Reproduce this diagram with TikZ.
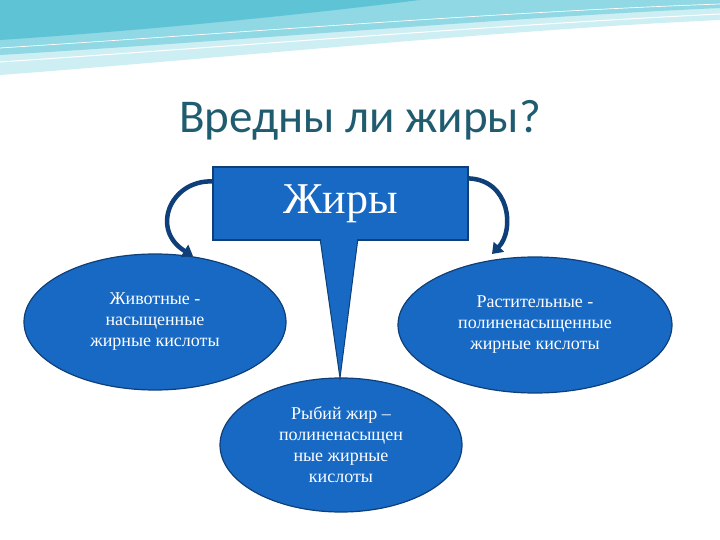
\documentclass[tikz,border=0pt]{standalone}
\usepackage{fontspec}
\setmainfont{Liberation Serif}
\newfontfamily\titlefont{Carlito}
\usetikzlibrary{arrows.meta,shapes.geometric}
\definecolor{blu}{HTML}{1769C4}
\definecolor{edge}{HTML}{0F3F78}
\definecolor{teal1}{HTML}{8FD8E4}
\definecolor{teal2}{HTML}{CDEEF3}
\definecolor{teal3}{HTML}{5FC3D6}
\definecolor{ttl}{HTML}{1F5C70}
\tikzset{
 oval/.style={ellipse,fill=blu,draw=edge,line width=1.2pt,text=white,align=center,inner sep=0pt,font=\fontsize{18}{21}\selectfont},
 curv/.style={draw=edge,line width=4.5pt,-{Triangle[length=10pt,width=14pt]}},
}
\begin{document}
\begin{tikzpicture}[x=1pt,y=-1pt]
\useasboundingbox (0,0) rectangle (720,540);
\fill[white] (0,0) rectangle (720,540);
% top waves
\fill[teal2] (0,0) -- (720,0) -- (720,20) .. controls (500,30) and (200,60) .. (0,75) -- cycle;
\fill[teal1] (0,0) -- (720,0) -- (720,8) .. controls (500,18) and (250,40) .. (0,55) -- cycle;
\fill[teal3] (0,0) -- (420,0) .. controls (300,15) and (150,30) .. (0,40) -- cycle;
\draw[white,line width=1pt] (0,62) .. controls (250,45) and (500,25) .. (720,14);
\draw[white,line width=0.7pt] (0,48) .. controls (250,32) and (500,12) .. (720,4);
\node[font=\titlefont\fontsize{47}{52}\selectfont,text=ttl] (title) at (360,120) {Вредны ли жиры?};
\node[oval,minimum width=262pt,minimum height=136pt] (animal) at (155,322) {Животные -\\насыщенные\\жирные кислоты};
\node[oval,minimum width=274pt,minimum height=136pt] (plant) at (535,325) {Растительные -\\полиненасыщенные\\жирные кислоты};
\node[oval,minimum width=242pt,minimum height=134pt] (fish) at (341,445) {Рыбий жир –\\полиненасыщен\\ные жирные\\кислоты};
% callout
\fill[blu,draw=edge,line width=1pt] (320,238) -- (340,378) -- (358,238) -- cycle;
\node[rectangle,fill=blu,draw=edge,line width=1.2pt,minimum width=255pt,minimum height=73pt,text=white,font=\fontsize{44}{48}\selectfont] (fat) at (340.5,203.5) {Жиры};
\fill[blu] (321,237) rectangle (357,242);
\coordinate (tip) at (340,378);
\draw[curv] (fat.north west) ++(0,15) .. controls (170,180) and (150,230) .. (193,256);
\draw[curv] (fat.north east) ++(0,12) .. controls (510,180) and (515,230) .. (492,254);
\end{tikzpicture}
\end{document}
